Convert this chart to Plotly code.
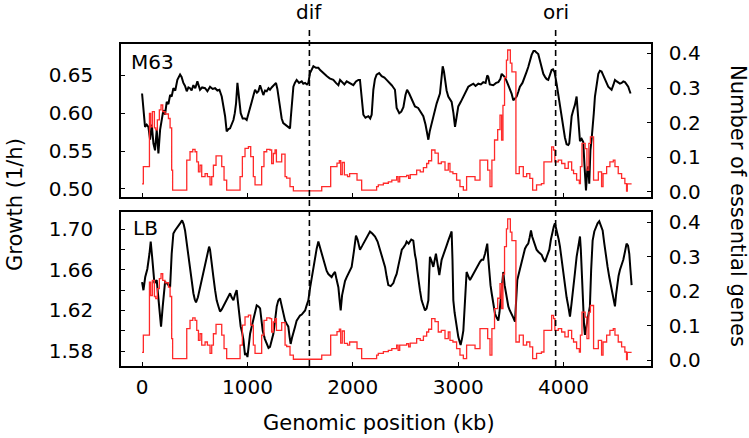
import plotly.graph_objects as go

# ---------------- data ----------------
m63_points = [
    (0, 0.626), (8, 0.611), (15, 0.607), (28, 0.582), (44, 0.585), (60, 0.582), (76, 0.565),
    (92, 0.585), (108, 0.560), (123, 0.551), (139, 0.578), (155, 0.547), (171, 0.578),
    (187, 0.591), (202, 0.604), (218, 0.598), (234, 0.615), (250, 0.612), (266, 0.624),
    (281, 0.622), (297, 0.633), (315, 0.630), (335, 0.644), (361, 0.651), (375, 0.648),
    (392, 0.640), (408, 0.636), (424, 0.629), (440, 0.634), (455, 0.633), (470, 0.630),
    (487, 0.637), (505, 0.633), (525, 0.642), (538, 0.636), (550, 0.631), (570, 0.634),
    (598, 0.633), (620, 0.629), (645, 0.635), (670, 0.632), (693, 0.633), (715, 0.630),
    (734, 0.631), (756, 0.622), (772, 0.610), (788, 0.596), (803, 0.576), (820, 0.579),
    (835, 0.580), (850, 0.585), (867, 0.591), (880, 0.600), (892, 0.613), (905, 0.640),
    (915, 0.625), (925, 0.608), (936, 0.600), (955, 0.593), (977, 0.593), (993, 0.591),
    (1009, 0.598), (1025, 0.606), (1041, 0.615), (1060, 0.625), (1072, 0.631), (1090, 0.627),
    (1104, 0.629), (1120, 0.637), (1135, 0.630), (1151, 0.624), (1167, 0.630), (1183, 0.629),
    (1200, 0.633), (1214, 0.631), (1230, 0.634), (1246, 0.636), (1271, 0.640), (1284, 0.632),
    (1294, 0.622), (1310, 0.605), (1325, 0.593), (1340, 0.587), (1357, 0.585), (1375, 0.584),
    (1388, 0.582), (1404, 0.580), (1412, 0.595), (1420, 0.613), (1436, 0.635), (1450, 0.640),
    (1467, 0.644), (1490, 0.640), (1515, 0.642), (1530, 0.639), (1547, 0.640), (1565, 0.638),
    (1578, 0.640), (1594, 0.653), (1610, 0.658), (1626, 0.662), (1650, 0.660), (1673, 0.660),
    (1690, 0.657), (1705, 0.655), (1730, 0.651), (1752, 0.649), (1780, 0.646), (1815, 0.644),
    (1840, 0.640), (1863, 0.637), (1879, 0.644), (1900, 0.641), (1920, 0.638), (1942, 0.642),
    (1970, 0.640), (2005, 0.637), (2030, 0.642), (2053, 0.644), (2068, 0.644), (2080, 0.625),
    (2090, 0.609), (2100, 0.598), (2120, 0.594), (2147, 0.596), (2165, 0.593), (2179, 0.598),
    (2195, 0.631), (2210, 0.645), (2226, 0.651), (2250, 0.653), (2274, 0.649), (2300, 0.647),
    (2321, 0.644), (2345, 0.641), (2369, 0.637), (2385, 0.634), (2400, 0.631), (2416, 0.607),
    (2441, 0.600), (2460, 0.602), (2480, 0.608), (2500, 0.624), (2515, 0.631), (2535, 0.626),
    (2560, 0.618), (2590, 0.609), (2620, 0.607), (2650, 0.600), (2669, 0.596), (2690, 0.585),
    (2701, 0.578), (2717, 0.565), (2730, 0.576), (2748, 0.587), (2770, 0.600), (2796, 0.613),
    (2827, 0.626), (2845, 0.650), (2853, 0.662), (2865, 0.655), (2875, 0.644), (2890, 0.630),
    (2906, 0.622), (2920, 0.618), (2938, 0.615), (2955, 0.600), (2970, 0.582), (2985, 0.595),
    (3001, 0.609), (3025, 0.615), (3049, 0.622), (3070, 0.628), (3096, 0.635), (3120, 0.637),
    (3144, 0.639), (3165, 0.636), (3191, 0.639), (3215, 0.638), (3238, 0.641), (3260, 0.640),
    (3276, 0.650), (3286, 0.648), (3300, 0.638), (3333, 0.637), (3360, 0.640), (3381, 0.641),
    (3400, 0.645), (3413, 0.652), (3440, 0.648), (3458, 0.643), (3476, 0.637), (3490, 0.630),
    (3507, 0.626), (3523, 0.617), (3540, 0.620), (3555, 0.622), (3570, 0.628), (3586, 0.635),
    (3610, 0.640), (3634, 0.648), (3650, 0.655), (3665, 0.661), (3680, 0.670), (3697, 0.677),
    (3715, 0.682), (3729, 0.682), (3745, 0.680), (3760, 0.678), (3775, 0.670), (3792, 0.661),
    (3808, 0.652), (3824, 0.648), (3840, 0.645), (3855, 0.644), (3870, 0.650), (3887, 0.657),
    (3900, 0.658), (3915, 0.654), (3934, 0.639), (3950, 0.625), (3966, 0.609), (3982, 0.592),
    (3997, 0.578), (4013, 0.568), (4029, 0.559), (4045, 0.558), (4054, 0.560), (4066, 0.580),
    (4077, 0.596), (4092, 0.604), (4108, 0.611), (4124, 0.622), (4132, 0.605), (4140, 0.591),
    (4156, 0.563), (4172, 0.566), (4187, 0.562), (4198, 0.533), (4213, 0.498), (4225, 0.524),
    (4236, 0.530), (4244, 0.507), (4255, 0.551), (4266, 0.565), (4276, 0.578), (4287, 0.600),
    (4298, 0.622), (4315, 0.640), (4330, 0.652), (4345, 0.656), (4361, 0.655), (4377, 0.650),
    (4393, 0.644), (4410, 0.638), (4424, 0.635), (4440, 0.633), (4456, 0.631), (4472, 0.637),
    (4488, 0.644), (4505, 0.642), (4519, 0.641), (4535, 0.639), (4551, 0.640), (4567, 0.642),
    (4583, 0.641), (4600, 0.638), (4614, 0.635), (4626, 0.630), (4636, 0.626),
]

lb_points = [
    (0, 1.648), (6, 1.643), (13, 1.640), (30, 1.653), (50, 1.661), (70, 1.676), (82, 1.688),
    (98, 1.670), (117, 1.647), (139, 1.650), (161, 1.627), (172, 1.615), (180, 1.604),
    (196, 1.624), (218, 1.648), (234, 1.647), (250, 1.645), (266, 1.643), (281, 1.676),
    (297, 1.696), (313, 1.699), (329, 1.701), (345, 1.704), (361, 1.706), (380, 1.709),
    (395, 1.705), (408, 1.699), (424, 1.686), (440, 1.675), (455, 1.663), (470, 1.650),
    (487, 1.637), (500, 1.631), (512, 1.628), (530, 1.633), (550, 1.642), (566, 1.650),
    (582, 1.658), (598, 1.664), (614, 1.671), (627, 1.678), (636, 1.683), (645, 1.680),
    (652, 1.675), (665, 1.665), (677, 1.653), (693, 1.640), (708, 1.630), (725, 1.624),
    (740, 1.619), (756, 1.621), (772, 1.624), (788, 1.628), (803, 1.630), (820, 1.634),
    (835, 1.637), (850, 1.633), (867, 1.630), (883, 1.636), (898, 1.640), (906, 1.632),
    (914, 1.624), (925, 1.614), (936, 1.604), (950, 1.598), (962, 1.591), (977, 1.576),
    (990, 1.578), (1000, 1.574), (1012, 1.585), (1025, 1.597), (1040, 1.604), (1056, 1.610),
    (1072, 1.618), (1088, 1.625), (1104, 1.624), (1120, 1.622), (1133, 1.610), (1145, 1.600),
    (1165, 1.592), (1183, 1.587), (1200, 1.583), (1214, 1.584), (1230, 1.590), (1246, 1.597),
    (1262, 1.610), (1278, 1.624), (1293, 1.630), (1309, 1.632), (1322, 1.626), (1335, 1.620),
    (1346, 1.614), (1357, 1.610), (1372, 1.607), (1388, 1.604), (1400, 1.594), (1410, 1.587),
    (1423, 1.593), (1436, 1.597), (1452, 1.604), (1467, 1.610), (1483, 1.613), (1499, 1.615),
    (1515, 1.616), (1531, 1.618), (1547, 1.620), (1562, 1.625), (1578, 1.630), (1594, 1.642),
    (1610, 1.653), (1625, 1.663), (1641, 1.673), (1657, 1.681), (1673, 1.688), (1689, 1.682),
    (1705, 1.676), (1720, 1.670), (1736, 1.663), (1752, 1.659), (1768, 1.656), (1784, 1.654),
    (1799, 1.653), (1815, 1.656), (1831, 1.658), (1847, 1.650), (1863, 1.643), (1875, 1.630),
    (1885, 1.620), (1898, 1.635), (1910, 1.643), (1926, 1.649), (1942, 1.653), (1965, 1.658),
    (1989, 1.663), (2010, 1.678), (2030, 1.694), (2045, 1.690), (2068, 1.680), (2090, 1.684),
    (2116, 1.689), (2140, 1.694), (2163, 1.698), (2185, 1.696), (2211, 1.693), (2235, 1.688),
    (2258, 1.680), (2282, 1.672), (2306, 1.663), (2322, 1.653), (2337, 1.645), (2360, 1.644),
    (2385, 1.647), (2400, 1.652), (2416, 1.656), (2432, 1.664), (2448, 1.673), (2465, 1.680),
    (2480, 1.682), (2500, 1.685), (2511, 1.688), (2530, 1.686), (2555, 1.690), (2574, 1.689),
    (2590, 1.675), (2600, 1.670), (2611, 1.660), (2622, 1.650), (2637, 1.640), (2653, 1.630),
    (2670, 1.624), (2685, 1.620), (2700, 1.622), (2717, 1.630), (2725, 1.655), (2732, 1.673),
    (2750, 1.668), (2764, 1.663), (2789, 1.676), (2805, 1.665), (2821, 1.655), (2843, 1.670),
    (2860, 1.676), (2875, 1.680), (2890, 1.684), (2906, 1.689), (2925, 1.694), (2938, 1.698),
    (2946, 1.670), (2954, 1.630), (2966, 1.618), (2979, 1.607), (2990, 1.600), (3001, 1.594),
    (3012, 1.590), (3023, 1.586), (3036, 1.592), (3049, 1.600), (3065, 1.630), (3080, 1.658),
    (3096, 1.654), (3112, 1.650), (3128, 1.653), (3144, 1.656), (3160, 1.660), (3175, 1.663),
    (3191, 1.666), (3207, 1.668), (3222, 1.670), (3238, 1.670), (3255, 1.676), (3276, 1.686),
    (3285, 1.672), (3295, 1.656), (3307, 1.645), (3318, 1.637), (3333, 1.627), (3349, 1.617),
    (3365, 1.613), (3381, 1.610), (3392, 1.618), (3403, 1.630), (3415, 1.645), (3428, 1.658),
    (3441, 1.645), (3454, 1.637), (3465, 1.630), (3476, 1.624), (3490, 1.620), (3507, 1.617),
    (3523, 1.613), (3539, 1.609), (3550, 1.630), (3561, 1.650), (3577, 1.657), (3593, 1.663),
    (3614, 1.672), (3634, 1.681), (3650, 1.684), (3665, 1.686), (3678, 1.692), (3691, 1.699),
    (3702, 1.693), (3713, 1.689), (3728, 1.684), (3744, 1.680), (3760, 1.678), (3776, 1.676),
    (3792, 1.675), (3808, 1.671), (3824, 1.668), (3844, 1.674), (3865, 1.680), (3880, 1.690),
    (3896, 1.699), (3908, 1.703), (3918, 1.706), (3930, 1.701), (3941, 1.696), (3954, 1.690),
    (3966, 1.683), (3982, 1.670), (3997, 1.656), (4013, 1.644), (4029, 1.633), (4045, 1.624),
    (4061, 1.614), (4076, 1.627), (4092, 1.640), (4108, 1.657), (4124, 1.673), (4140, 1.684),
    (4156, 1.693), (4164, 1.680), (4171, 1.663), (4179, 1.640), (4187, 1.617), (4195, 1.605),
    (4203, 1.596), (4214, 1.603), (4225, 1.610), (4238, 1.618), (4250, 1.624), (4262, 1.660),
    (4276, 1.689), (4292, 1.698), (4307, 1.703), (4323, 1.706), (4339, 1.708), (4355, 1.704),
    (4371, 1.699), (4387, 1.686), (4402, 1.673), (4418, 1.663), (4434, 1.653), (4450, 1.645),
    (4466, 1.637), (4478, 1.630), (4488, 1.624), (4499, 1.636), (4510, 1.647), (4522, 1.654),
    (4535, 1.660), (4551, 1.665), (4567, 1.670), (4583, 1.678), (4598, 1.686), (4612, 1.684),
    (4624, 1.676), (4635, 1.660), (4646, 1.645),
]

essential_points = [
    (0, 0.023), (12, 0.073), (70, 0.227), (82, 0.188), (98, 0.232), (117, 0.185), (130, 0.179),
    (145, 0.208), (164, 0.237), (180, 0.251), (196, 0.232), (218, 0.225), (250, 0.212),
    (266, 0.185), (281, 0.063), (290, 0.005), (424, 0.092), (455, 0.116), (481, 0.123),
    (503, 0.116), (519, 0.087), (535, 0.058), (550, 0.077), (566, 0.044), (598, 0.053),
    (620, 0.044), (645, 0.020), (661, 0.044), (677, 0.077), (702, 0.104), (756, 0.073),
    (778, 0.034), (803, 0.005), (930, 0.044), (952, 0.102), (977, 0.126), (1009, 0.131),
    (1031, 0.102), (1056, 0.044), (1072, 0.020), (1135, 0.073), (1157, 0.116), (1183, 0.123),
    (1214, 0.121), (1230, 0.082), (1246, 0.111), (1262, 0.121), (1275, 0.087), (1325, 0.109),
    (1357, 0.044), (1372, 0.040), (1404, 0.015), (1436, 0.003), (1705, 0.015), (1790, 0.073),
    (1850, 0.083), (1872, 0.090), (1885, 0.050), (1900, 0.085), (1920, 0.049), (1950, 0.044),
    (1970, 0.053), (2010, 0.053), (2040, 0.034), (2084, 0.005), (2226, 0.015), (2242, 0.020),
    (2290, 0.025), (2337, 0.029), (2370, 0.034), (2416, 0.044), (2430, 0.029), (2445, 0.044),
    (2511, 0.048), (2530, 0.039), (2545, 0.050), (2606, 0.063), (2640, 0.058), (2670, 0.070),
    (2701, 0.082), (2720, 0.090), (2748, 0.121), (2780, 0.112), (2811, 0.082), (2840, 0.087),
    (2875, 0.063), (2906, 0.082), (2922, 0.058), (2950, 0.053), (2985, 0.034), (3017, 0.015),
    (3049, 0.005), (3080, 0.044), (3160, 0.034), (3207, 0.092), (3280, 0.063), (3302, 0.015),
    (3320, 0.092), (3345, 0.150), (3375, 0.180), (3397, 0.222), (3412, 0.150), (3425, 0.250),
    (3440, 0.330), (3458, 0.381), (3470, 0.410), (3495, 0.372), (3510, 0.347), (3548, 0.053),
    (3580, 0.073), (3618, 0.044), (3650, 0.053), (3680, 0.039), (3707, 0.005), (3744, 0.020),
    (3790, 0.024), (3814, 0.087), (3887, 0.130), (3905, 0.121), (3918, 0.087), (3950, 0.092),
    (3982, 0.082), (4013, 0.068), (4045, 0.087), (4077, 0.063), (4095, 0.053), (4124, 0.034),
    (4150, 0.024), (4160, 0.073), (4175, 0.140), (4205, 0.125), (4222, 0.063), (4240, 0.140),
    (4255, 0.159), (4285, 0.034), (4330, 0.058), (4361, 0.015), (4375, 0.053), (4409, 0.073),
    (4440, 0.087), (4472, 0.092), (4488, 0.073), (4519, 0.053), (4551, 0.039), (4582, 0.024),
    (4598, 0.002), (4605, 0.023), (4646, 0.023),
]

marker_names = ["dif", "ori"]
marker_kb = [1588, 3925]

m63_ticks = [0.50, 0.55, 0.60, 0.65]
lb_ticks = [1.58, 1.62, 1.66, 1.70]
lb_minor_ticks = [1.60, 1.64, 1.68]
ess_ticks = [0.0, 0.1, 0.2, 0.3, 0.4]
x_ticks = [0, 1000, 2000, 3000, 4000]

# ---------------- figure ----------------
m63_kb, m63_g = zip(*m63_points)
lb_kb, lb_g = zip(*lb_points)
ess_kb, ess_v = zip(*essential_points)

FONT = "DejaVu Sans"
FS = 20
RED = "#ff2a2a"

fig = go.Figure()
fig.add_trace(go.Scatter(x=m63_kb, y=m63_g, mode="lines", line=dict(color="black", width=2),
                         xaxis="x", yaxis="y", showlegend=False))
fig.add_trace(go.Scatter(x=ess_kb, y=ess_v, mode="lines", line=dict(color=RED, width=1.3, shape="hv"),
                         xaxis="x", yaxis="y2", showlegend=False))
fig.add_trace(go.Scatter(x=lb_kb, y=lb_g, mode="lines", line=dict(color="black", width=2),
                         xaxis="x2", yaxis="y3", showlegend=False))
fig.add_trace(go.Scatter(x=ess_kb, y=ess_v, mode="lines", line=dict(color=RED, width=1.3, shape="hv"),
                         xaxis="x2", yaxis="y4", showlegend=False))

xr = [-200, 4830]
common_axis = dict(showline=True, linecolor="black", linewidth=1.6, ticks="inside", ticklen=4,
                   tickwidth=1.2, tickcolor="black", showgrid=False, zeroline=False,
                   tickfont=dict(family=FONT, size=FS, color="black"))

fig.update_layout(
    width=749, height=438,
    margin=dict(l=121, r=98, t=44, b=72),
    paper_bgcolor="white", plot_bgcolor="white",
    font=dict(family=FONT, size=FS, color="black"),
    xaxis=dict(common_axis, domain=[0, 1], anchor="y", range=xr, tickvals=x_ticks,
               showticklabels=False, mirror=True),
    yaxis=dict(common_axis, domain=[0.525, 1], anchor="x", range=[0.4894, 0.6914],
               tickvals=m63_ticks, tickformat=".2f", mirror=True, ticklabelstandoff=22),
    yaxis2=dict(common_axis, overlaying="y", side="right", anchor="x", range=[-0.0146, 0.4273],
                tickvals=ess_ticks, tickformat=".1f", ticklabelstandoff=12),
    xaxis2=dict(common_axis, domain=[0, 1], anchor="y3", range=xr, tickvals=x_ticks,
                mirror=True, ticklabelstandoff=2),
    yaxis3=dict(common_axis, domain=[0, 0.477], anchor="x2", range=[1.5652, 1.7168],
                tickvals=lb_ticks, tickformat=".2f", mirror=True, ticklabelstandoff=22,
                minor=dict(tickvals=lb_minor_ticks, ticks="inside", ticklen=4, tickcolor="black")),
    yaxis4=dict(common_axis, overlaying="y3", side="right", anchor="x2", range=[-0.0166, 0.429],
                tickvals=ess_ticks, tickformat=".1f", ticklabelstandoff=12),
)

for name, kb in zip(marker_names, marker_kb):
    fig.add_shape(type="line", xref="x", yref="paper", x0=kb, x1=kb, y0=0, y1=1.0435,
                  line=dict(color="black", width=1.6, dash="6px,4px"), layer="above")
    fig.add_annotation(x=kb, xref="x", y=1.098, yref="paper", text=name, showarrow=False,
                       xanchor="center", yanchor="middle", font=dict(family=FONT, size=FS))

fig.add_annotation(x=0.015, y=0.944, xref="paper", yref="paper", text="M63", showarrow=False,
                   xanchor="left", yanchor="middle", font=dict(family=FONT, size=FS))
fig.add_annotation(x=0.019, y=0.4286, xref="paper", yref="paper", text="LB", showarrow=False,
                   xanchor="left", yanchor="middle", font=dict(family=FONT, size=FS))
fig.add_annotation(x=-0.2, y=0.5, xref="paper", yref="paper", text="Growth (1/h)", showarrow=False,
                   textangle=-90, xanchor="center", yanchor="middle", font=dict(family=FONT, size=21))
fig.add_annotation(x=1.164, y=0.497, xref="paper", yref="paper", text="Number of essential genes",
                   showarrow=False, textangle=90, xanchor="center", yanchor="middle",
                   font=dict(family=FONT, size=21))
fig.add_annotation(x=0.4868, y=-0.177, xref="paper", yref="paper", text="Genomic position (kb)",
                   showarrow=False, xanchor="center", yanchor="middle", font=dict(family=FONT, size=21))

fig.write_html("out.html", config={"displayModeBar": False},
               post_script="document.body.style.margin='0px';document.body.style.overflow='hidden';")
